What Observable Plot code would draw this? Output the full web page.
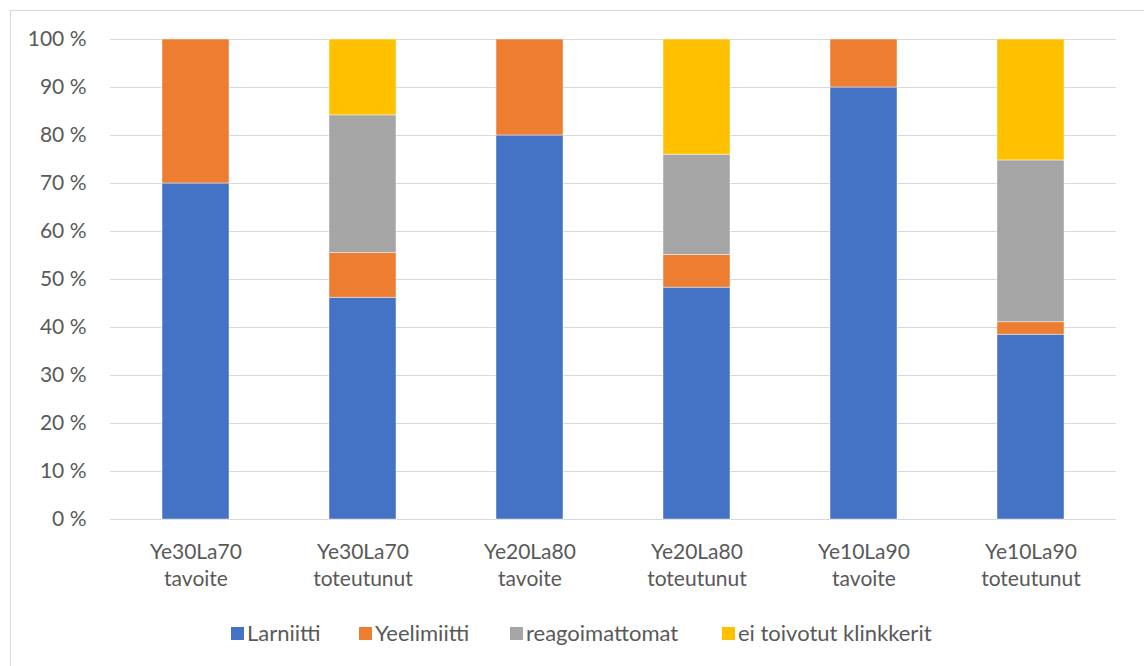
<!DOCTYPE html>
<html>
<head>
<meta charset="utf-8">
<script src="https://cdn.jsdelivr.net/npm/d3@7"></script>
<script src="https://cdn.jsdelivr.net/npm/@observablehq/plot@0.6"></script>
<style>
  html, body { margin: 0; padding: 0; background: #fff; }
  #wrap { position: relative; width: 1144px; height: 666px; overflow: hidden; background: #fff; font-family: Lato, "Noto Sans", sans-serif; color: #595959; }
  #frame { position: absolute; left: 10px; top: 10px; width: 1200px; height: 720px; border: 1px solid #d9d9d9; }
  #chart { position: absolute; left: 0; top: 0; }
  #legend { position: absolute; left: 0; top: 622px; width: 1144px; height: 24px; font-size: 22px; line-height: 22px; }
  .item { position: absolute; top: 0; display: flex; align-items: center; white-space: nowrap; }
  .sw { width: 13px; height: 13px; margin-right: 3px; }
</style>
</head>
<body>
<div id="wrap">
  <div id="frame"></div>
  <div id="chart"></div>
  <div id="legend"></div>
</div>
<script>
const categories = ["Ye30La70\ntavoite", "Ye30La70\ntoteutunut", "Ye20La80\ntavoite", "Ye20La80\ntoteutunut", "Ye10La90\ntavoite", "Ye10La90\ntoteutunut"];
const seriesNames = ["Larniitti", "Yeelimiitti", "reagoimattomat", "ei toivotut klinkkerit"];
const larniitti = [70, 46.2, 80, 48.3, 90, 38.5];
const yeelimiitti = [30, 9.3, 20, 6.8, 10, 2.6];
const reagoimattomat = [0, 28.7, 0, 20.9, 0, 33.7];
const eiToivotut = [0, 15.8, 0, 24.0, 0, 25.2];
const colors = ["#4472C4", "#ED7D31", "#A5A5A5", "#FFC000"];
const yTicks = [0, 10, 20, 30, 40, 50, 60, 70, 80, 90, 100];

const seriesValues = [larniitti, yeelimiitti, reagoimattomat, eiToivotut];
const rows = [];
seriesNames.forEach((s, si) => {
  categories.forEach((c, ci) => {
    const v = seriesValues[si][ci];
    if (v > 0) rows.push({category: c, series: s, value: v});
  });
});

const chart = Plot.plot({
  width: 1144,
  height: 600,
  marginTop: 39,
  marginBottom: 81,
  marginLeft: 110,
  marginRight: 28,
  style: {fontFamily: "Lato, 'Noto Sans', sans-serif", fontSize: "21px", color: "#595959", background: "transparent", overflow: "visible"},
  x: {domain: categories, paddingInner: 0.6, paddingOuter: 0.3, label: null},
  y: {domain: [0, 100], label: null},
  color: {domain: seriesNames, range: colors},
  marks: [
    Plot.gridY(yTicks, {stroke: "#d9d9d9", strokeOpacity: 1, strokeWidth: 1}),
    Plot.barY(rows, {x: "category", y: "value", fill: "series", stroke: "white", strokeOpacity: 0.6, strokeWidth: 0.75}),
    Plot.axisY({ticks: yTicks, tickSize: 0, tickPadding: 24, tickFormat: d => d + " %", label: null, fontSize: 21}),
    Plot.axisX({tickSize: 0, tickPadding: 20, label: null, fontSize: 21, lineHeight: 1.3})
  ]
});
document.getElementById("chart").appendChild(chart);

// legend item left edges (layout only)
const legendLeft = [231, 359, 510, 722];
const legend = document.getElementById("legend");
seriesNames.forEach((s, i) => {
  const item = document.createElement("div");
  item.className = "item";
  item.style.left = legendLeft[i] + "px";
  const sw = document.createElement("span");
  sw.className = "sw";
  sw.style.background = colors[i];
  const t = document.createElement("span");
  t.textContent = s;
  item.appendChild(sw);
  item.appendChild(t);
  legend.appendChild(item);
});
</script>
</body>
</html>
